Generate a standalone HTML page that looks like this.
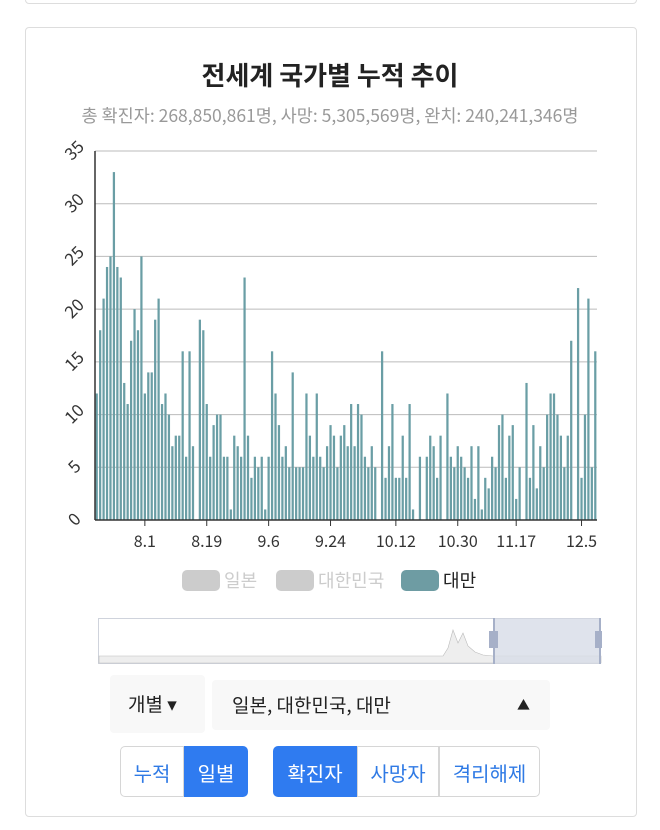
<!DOCTYPE html>
<html><head><meta charset="utf-8">
<style>
body{margin:0;width:660px;height:830px;background:#fff;font-family:"Noto Sans CJK KR",sans-serif;position:relative;overflow:hidden}
.card{position:absolute;border:1px solid #ddd;border-radius:4px;background:#fff}
.abs{position:absolute}
.btn{position:absolute;top:746px;height:51px;line-height:51px;text-align:center;font-size:20px;color:#2f7ae5;border:1px solid #d6d6d6;box-sizing:border-box}
.on{background:#2f7bf0;color:#fff;border-color:#2f7bf0}
</style></head><body>
<div class="card" style="left:25px;top:-10px;width:610px;height:12px"></div>
<div class="card" style="left:25px;top:27px;width:610px;height:788px"></div>
<div class="abs" style="left:0;width:660px;top:57px;text-align:center;font-size:26px;line-height:36px;font-weight:bold;color:#222">전세계 국가별 누적 추이</div>
<div class="abs" style="left:0;width:660px;top:103px;text-align:center;font-size:17.5px;line-height:26px;color:#999">총 확진자: 268,850,861명, 사망: 5,305,569명, 완치: 240,241,346명</div>
<svg id="chart" class="abs" style="left:0;top:0" width="660" height="600"></svg>
<div class="abs" style="left:0;top:564px;width:660px;height:28px;font-size:18px;line-height:28px">
 <div class="abs" style="left:182px;top:0"><span style="display:inline-block;width:38px;height:21px;border-radius:5px;background:#ccc;vertical-align:middle"></span> <span style="color:#ccc;vertical-align:middle">일본</span></div>
 <div class="abs" style="left:276px;top:0"><span style="display:inline-block;width:38px;height:21px;border-radius:5px;background:#ccc;vertical-align:middle"></span> <span style="color:#ccc;vertical-align:middle">대한민국</span></div>
 <div class="abs" style="left:401px;top:0"><span style="display:inline-block;width:38px;height:21px;border-radius:5px;background:#6e9ca3;vertical-align:middle"></span> <span style="color:#222;vertical-align:middle">대만</span></div>
</div>
<svg class="abs" style="left:98px;top:618px" width="504" height="46">
 <rect x="0.5" y="0.5" width="502" height="45" fill="#fff" stroke="#cfd3dc"/>
 <path d="M1 38 L345 38 L350 30 L355 12 L360 25 L365 15 L370 28 L377 34 L385 37 L395 38 L503 38 L503 45 L1 45Z" fill="#eee" stroke="#bbb" stroke-width="0.6"/>
 <rect x="396" y="0.5" width="106" height="45" fill="#d7dce7" opacity="0.8"/>
 <line x1="396" y1="0" x2="396" y2="46" stroke="#a6b0c8" stroke-width="2"/>
 <line x1="502" y1="0" x2="502" y2="46" stroke="#a6b0c8" stroke-width="2"/>
 <rect x="391" y="13" width="9" height="17" fill="#a6b0c8"/>
 <rect x="497" y="13" width="9" height="17" fill="#a6b0c8"/>
</svg>
<div class="abs" style="left:110px;top:675px;width:95px;height:58px;background:#f8f8f8;border-radius:4px;font-size:19px;line-height:58px;color:#222"><span style="margin-left:18px">개별 ▾</span></div>
<div class="abs" style="left:212px;top:680px;width:338px;height:50px;background:#f8f8f8;border-radius:4px;font-size:19px;line-height:50px;color:#222"><span style="margin-left:20px">일본, 대한민국, 대만</span><span style="position:absolute;right:20px;font-size:13px">▲</span></div>
<div class="btn" style="left:120px;width:64px;border-radius:5px 0 0 5px">누적</div>
<div class="btn on" style="left:184px;width:64px;border-radius:0 5px 5px 0">일별</div>
<div class="btn on" style="left:273px;width:84px;border-radius:5px 0 0 5px">확진자</div>
<div class="btn" style="left:357px;width:82px">사망자</div>
<div class="btn" style="left:439px;width:101px;border-radius:0 5px 5px 0">격리해제</div>
<script>
const values=[12,18,21,24,25,33,24,23,13,11,17,20,18,25,12,14,14,19,21,11,12,10,7,8,8,16,6,16,7,0,19,18,11,6,9,10,10,6,6,1,8,7,6,23,8,4,6,5,6,1,6,16,12,9,6,7,5,14,5,5,5,12,8,6,12,6,5,7,9,8,5,8,9,7,11,7,11,10,6,5,7,5,0,16,4,7,11,4,4,8,4,11,1,0,6,0,6,8,7,4,8,0,12,6,5,7,6,5,4,7,2,7,1,4,3,6,5,9,10,4,8,9,2,5,0,13,4,9,3,7,5,10,12,12,10,8,5,8,17,0,22,4,10,21,5,16];
const startMonth=7, startDay=17;
const yTicks=[0,5,10,15,20,25,30,35];
const xTickLabels=["8.1","8.19","9.6","9.24","10.12","10.30","11.17","12.5"];
const svg=document.getElementById('chart');
const NS='http://www.w3.org/2000/svg';
const X0=95,X1=597,Y0=520,Y1=151,YMAX=35;
const n=values.length;
const step=(X1-X0)/n;
const y=v=>Y0-(v/YMAX)*(Y0-Y1);
const x=i=>X0+i*step;
function mk(t,a){const e=document.createElementNS(NS,t);for(const k in a)e.setAttribute(k,a[k]);svg.appendChild(e);return e;}
const dim=[31,31,30,31,30,31,30,31,31,30,31,30,31];
const dates=[];let m=startMonth,d=startDay;
for(let i=0;i<n;i++){dates.push(m+"."+d);d++;if(d>dim[m-1]){d=1;m++;}}
yTicks.forEach(t=>{
 const l=mk('line',{x1:X0,x2:X1,y1:y(t),y2:y(t),stroke:'#bbb','stroke-width':1});
 
 
 const tx=mk('text',{x:0,y:5,'font-size':17,fill:'#333','text-anchor':'middle',transform:`translate(${X0-20},${y(t)}) rotate(-45)`,'font-family':'Noto Sans CJK KR,sans-serif'});
 tx.textContent=t;
 
 
});
values.forEach((v,i)=>{
 const r=mk('rect',{x:x(i)+0.6,y:y(v),width:step-1.2,height:Y0-y(v),fill:'#6a9ea5'});
 
 
});
mk('line',{x1:X0,x2:X0,y1:Y1,y2:Y0,stroke:'#333','stroke-width':1.5});
mk('line',{x1:X0,x2:X1,y1:Y0,y2:Y0,stroke:'#333','stroke-width':1.5});
xTickLabels.forEach(lab=>{
 const i=dates.indexOf(lab);if(i<0)return;
 const cx=x(i)+step/2;
 mk('line',{x1:cx,x2:cx,y1:Y0,y2:Y0+6,stroke:'#333'});
 const tx=mk('text',{x:cx,y:Y0+27,'font-size':16,fill:'#333','text-anchor':'middle','font-family':'Noto Sans CJK KR,sans-serif'});
 tx.textContent=lab;
 
 
});
</script>
</body></html>
